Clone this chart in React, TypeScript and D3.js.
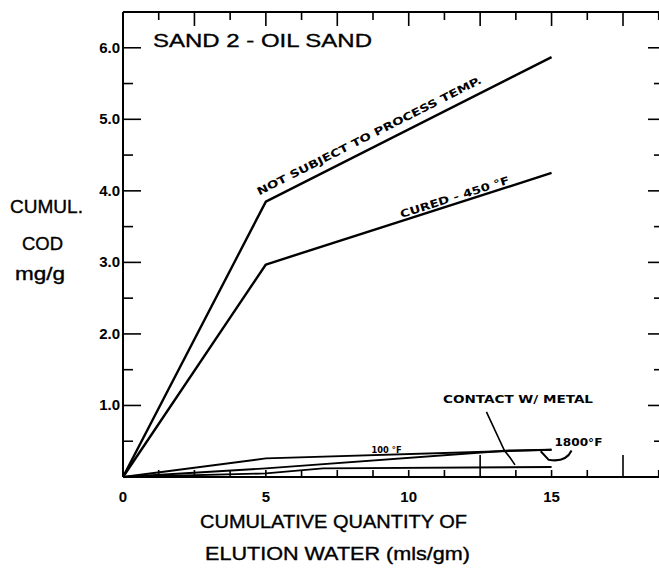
import React from "react";
import * as d3 from "d3";

// Cumulative COD released per gram of sand vs cumulative elution water
const notSubjectX = [0, 5, 15];
const notSubjectY = [0, 3.85, 5.87];
const curedX = [0, 5, 15];
const curedY = [0, 2.97, 4.25];
const f1000X = [0, 5, 15];
const f1000Y = [0, 0.26, 0.38];
const f1800X = [0, 5, 13.5, 15];
const f1800Y = [0, 0.12, 0.37, 0.38];
const contactX = [0, 5, 7, 15];
const contactY = [0, 0.05, 0.12, 0.14];

const xTickLabels = [0, 5, 10, 15];
const yTickLabels = [1, 2, 3, 4, 5, 6];

const W = 659;
const H = 571;
const FONT = "'Liberation Sans', Arial, sans-serif";

const x = d3.scaleLinear().domain([0, 18.9]).range([123, 663]);
const y = d3.scaleLinear().domain([0, 6.5]).range([477, 12]);

const lineGen = d3
  .line<[number, number]>()
  .x((d) => x(d[0]))
  .y((d) => y(d[1]));

const pts = (xs: number[], ys: number[]) =>
  xs.map((v, i) => [v, ys[i]] as [number, number]);

function angleOf(x0: number, y0: number, x1: number, y1: number) {
  return (Math.atan2(y(y1) - y(y0), x(x1) - x(x0)) * 180) / Math.PI;
}

export default function App() {
  const series = [
    pts(notSubjectX, notSubjectY),
    pts(curedX, curedY),
    pts(f1000X, f1000Y),
    pts(f1800X, f1800Y),
    pts(contactX, contactY),
  ];

  const xMinor = d3.range(0, 18.76, 1.25);
  const yMinor = d3.range(0.5, 6.51, 0.5);

  const aNot = angleOf(5, notSubjectY[1], 15, notSubjectY[2]);
  const aCured = angleOf(5, curedY[1], 15, curedY[2]);

  return (
    <svg
      width={W}
      height={H}
      style={{ position: "absolute", left: 0, top: 0, background: "#fff" }}
    >
      <rect x={0} y={0} width={W} height={H} fill="#fff" />
      {/* frame */}
      <g stroke="#000" strokeWidth={2} fill="none">
        <line x1={x(0)} y1={y(6.5)} x2={x(0)} y2={y(0)} />
        <line x1={x(0)} y1={y(0)} x2={W + 10} y2={y(0)} />
        <line x1={x(0)} y1={y(6.5)} x2={W + 10} y2={y(6.5)} />
        <line x1={x(18.9)} y1={y(6.5)} x2={x(18.9)} y2={y(0)} />
      </g>
      {/* x ticks, top and bottom */}
      <g stroke="#000" strokeWidth={1.6}>
        {xMinor.map((t) => {
          const major = Math.abs(t / 2.5 - Math.round(t / 2.5)) < 1e-6;
          const tall = t === 12.5 || t === 17.5;
          return (
            <g key={"xt" + t}>
              {t > 0 && (
                <line x1={x(t)} x2={x(t)} y1={y(6.5)} y2={y(6.5) + (major ? 14 : 8)} />
              )}
              {t > 0 && (
                <line x1={x(t)} x2={x(t)} y1={y(0)} y2={y(0) - (tall ? 22 : 7)} />
              )}
            </g>
          );
        })}
      </g>
      {/* y ticks, left and right */}
      <g stroke="#000" strokeWidth={1.6}>
        {yMinor.map((t) => {
          const major = Math.abs(t - Math.round(t)) < 1e-6;
          return (
            <g key={"yt" + t}>
              <line x1={x(0)} x2={x(0) + (major ? 18 : 10)} y1={y(t)} y2={y(t)} />
              <line x1={x(18.9)} x2={x(18.9) - (major ? 15 : 9)} y1={y(t)} y2={y(t)} />
            </g>
          );
        })}
      </g>
      {/* tick labels */}
      <g fontFamily={FONT} fontWeight="bold" fontSize={15} fill="#000">
        {yTickLabels.map((v) => (
          <text key={"yl" + v} x={x(0) - 3} y={y(v) + 5} textAnchor="end">
            {v.toFixed(1)}
          </text>
        ))}
        {xTickLabels.map((v) => (
          <text key={"xl" + v} x={x(v)} y={502} textAnchor="middle">
            {v}
          </text>
        ))}
      </g>
      {/* axis titles */}
      <g fontFamily={FONT} fontSize={18} fill="#000" stroke="#000" strokeWidth={0.35}>
        <text x={10} y={213} textLength={73} lengthAdjust="spacingAndGlyphs">CUMUL.</text>
        <text x={22} y={250} textLength={41} lengthAdjust="spacingAndGlyphs">COD</text>
        <text x={15} y={280} textLength={50} lengthAdjust="spacingAndGlyphs">mg/g</text>
        <text x={200} y={528} textLength={267} lengthAdjust="spacingAndGlyphs">
          CUMULATIVE QUANTITY OF
        </text>
        <text x={205} y={560} textLength={265} lengthAdjust="spacingAndGlyphs">
          ELUTION WATER (mls/gm)
        </text>
        <text x={153} y={47} fontSize={19} textLength={219} lengthAdjust="spacingAndGlyphs">
          SAND  2 -  OIL SAND
        </text>
      </g>
      {/* data lines */}
      <g fill="none" stroke="#000" strokeLinejoin="round">
        {series.map((s, i) => (
          <path key={"s" + i} d={lineGen(s) ?? ""} strokeWidth={i < 2 ? 2.4 : 1.9} />
        ))}
      </g>
      {/* curve labels */}
      <g fontFamily="'DejaVu Sans', sans-serif" fontWeight="bold" fontSize={10.5} fill="#000">
        <text
          transform={`translate(${x(4.77)},${y(3.88) - 4}) rotate(${aNot})`}
          textLength={250}
          lengthAdjust="spacingAndGlyphs"
        >
          NOT SUBJECT TO PROCESS TEMP.
        </text>
        <text
          transform={`translate(${x(9.75)},${y(3.55) - 5}) rotate(${aCured})`}
          textLength={114}
          lengthAdjust="spacingAndGlyphs"
        >
          CURED - 450 °F
        </text>
        <text x={x(8.7)} y={y(0.33)} fontSize={9.5} textLength={30} lengthAdjust="spacingAndGlyphs">
          100 °F
        </text>
        <text x={x(11.2)} y={y(1.03)} fontSize={11} textLength={150} lengthAdjust="spacingAndGlyphs">
          CONTACT W/ METAL
        </text>
        <text x={x(15.1)} y={y(0.44)} fontSize={11} textLength={48} lengthAdjust="spacingAndGlyphs">
          1800°F
        </text>
      </g>
      {/* leaders */}
      <g fill="none" stroke="#000" strokeWidth={1.6}>
        <path
          d={`M${x(12.72)},${y(0.91)} L${x(13.35)},${y(0.37)} L${x(13.55)},${y(0.27)} L${x(13.72)},${y(0.17)}`}
        />
        <path
          d={`M${x(15.7)},${y(0.37)} Q${x(15.5)},${y(0.2)} ${x(14.9)},${y(0.24)} L${x(14.62)},${y(0.36)}`}
          strokeWidth={2}
        />
      </g>
    </svg>
  );
}
